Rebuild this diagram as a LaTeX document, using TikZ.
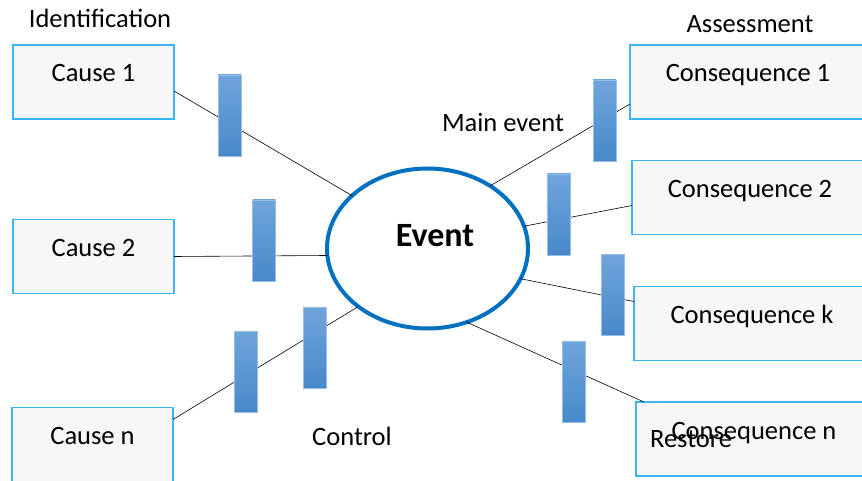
\documentclass[tikz,border=0pt]{standalone}
\usepackage{fontspec}
\setmainfont{Carlito}
\usetikzlibrary{shapes}
\tikzset{>=latex}
\definecolor{boxline}{RGB}{59, 182, 240}
\definecolor{boxfill}{RGB}{247, 247, 247}
\definecolor{evblue}{RGB}{0, 112, 192}
\definecolor{bartop}{RGB}{112, 165, 220}
\definecolor{barbot}{RGB}{72, 137, 202}
\definecolor{barline}{RGB}{150, 190, 230}
\tikzset{
  causebox/.style={draw=boxline, line width=1.2pt, fill=boxfill, minimum width=161pt, minimum height=74pt,
    text height=13pt, text depth=13pt, inner sep=0pt, outer sep=0pt},
  conseqbox/.style={causebox, minimum width=236pt},
  barrier/.style={draw=barline, line width=0.8pt, top color=bartop, bottom color=barbot,
    minimum width=23pt, minimum height=81pt, inner sep=0pt},
  lbl/.style={inner sep=0pt, anchor=base}
}

\begin{document}
\begin{tikzpicture}[x=1pt, y=-1pt, font=\fontsize{26.5}{30}\selectfont]
\useasboundingbox (0, 0) rectangle (862, 481);

\node[causebox] (c1) at (93.5, 82) {Cause 1};
\node[causebox] (c2) at (93.5, 256.5) {Cause 2};
\node[causebox] (cn) at (92.5, 444.5) {Cause n};

\node[conseqbox] (q1) at (748, 82) {Consequence 1};
\node[conseqbox] (q2) at (750, 197.5) {Consequence 2};
\node[conseqbox] (qk) at (752, 323.5) {Consequence k};
\node[conseqbox] (qn) at (754, 439) {Consequence n};

\node[ellipse, draw=evblue, line width=4pt, fill=white, minimum width=201pt, minimum height=160pt, outer sep=0pt] (ev) at (427.5, 248.5) {};

\draw[line width=0.6pt] ([yshift=-9pt]c1.east) -- (ev.145);
\draw[line width=0.6pt] (c2.east) -- (ev.184);
\draw[line width=0.6pt] ([yshift=25pt]cn.east) -- (ev.220);
\draw[line width=0.6pt] (ev.45) -- ([yshift=-22pt]q1.west);
\draw[line width=0.6pt] (ev.13) -- ([yshift=-8pt]q2.west);
\draw[line width=0.6pt] (ev.-18) -- ([yshift=22pt]qk.west);
\draw[line width=0.6pt] (ev.-62) -- ([xshift=8pt]qn.north west);

\node[barrier] (b1) at (229.5, 115.5) {};
\node[barrier] (b2) at (264, 240.5) {};
\node[barrier] (b3) at (246, 371.5) {};
\node[barrier] (b4) at (315, 347.5) {};
\node[barrier] (b5) at (604.5, 120.5) {};
\node[barrier] (b6) at (559, 214.5) {};
\node[barrier] (b7) at (612.5, 294.5) {};
\node[barrier] (b8) at (573.5, 381.5) {};

\node[lbl, font=\fontsize{34}{40}\selectfont\bfseries] (evtext) at (435, 247) {Event};
\node[lbl] (ident) at (100, 28) {Identification};
\node[lbl] (assess) at (750, 33) {Assessment};
\node[lbl] (mainev) at (503, 132) {Main event};
\node[lbl] (ctrl) at (352, 445) {Control};
\node[lbl] (restore) at (691, 447) {Restore};

\end{tikzpicture}
\end{document}
